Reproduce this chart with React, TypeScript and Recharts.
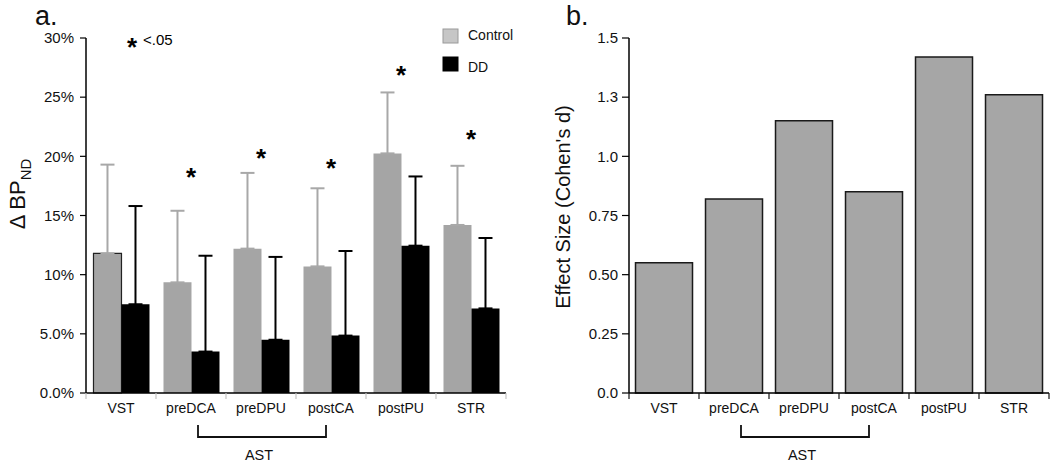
import React from 'react';
import { ComposedChart, BarChart, Bar, XAxis, YAxis, ErrorBar, Scatter, Legend, Cell, Label } from 'recharts';

// ---- data ----
const regions = ['VST', 'preDCA', 'preDPU', 'postCA', 'postPU', 'STR'];
const controlMean = [11.8, 9.35, 12.2, 10.7, 20.25, 14.2];
const controlErr = [7.5, 6.05, 6.4, 6.6, 5.15, 5.0];
const ddMean = [7.5, 3.5, 4.5, 4.85, 12.45, 7.15];
const ddErr = [8.3, 8.1, 7.0, 7.15, 5.85, 5.95];
const sigStar: (number | null)[] = [null, 18.7, 20.3, 19.4, 27.3, 21.9];
const effectSize = [0.55, 0.82, 1.15, 0.85, 1.42, 1.26];
const pctTicks = [0, 5, 10, 15, 20, 25, 30];
const pctTickLabels = ['0.0%', '5.0%', '10%', '15%', '20%', '25%', '30%'];
const dTicks = [0, 0.25, 0.5, 0.75, 1, 1.25, 1.5];
const dTickLabels = ['0.0', '0.25', '0.50', '0.75', '1.0', '1.3', '1.5'];
const astGroup = ['preDCA', 'postCA'];

const groupData = regions.map((r, i) => ({
  region: r,
  control: controlMean[i],
  controlErr: [0, controlErr[i]],
  dd: ddMean[i],
  ddErr: [0, ddErr[i]],
  star: sigStar[i],
}));
const effectData = regions.map((r, i) => ({ region: r, d: effectSize[i] }));

const FONT = '"Liberation Sans", Arial, Helvetica, sans-serif';
const PLOT_W = 420;
const BAND = PLOT_W / regions.length;

const makeTick = (tickColor: string) => (props: any) => {
  const { x, y, payload, index } = props;
  const half = BAND / 2;
  const startIdx = regions.indexOf(astGroup[0]);
  const endIdx = regions.indexOf(astGroup[1]);
  const span = (endIdx - startIdx) * BAND;
  return (
    <g>
      <line x1={x - half} x2={x - half} y1={y} y2={y + 6} stroke={tickColor} strokeWidth={1.2} />
      {index === regions.length - 1 && (
        <line x1={x + half} x2={x + half} y1={y} y2={y + 6} stroke={tickColor} strokeWidth={1.2} />
      )}
      <text x={x} y={y + 20} textAnchor="middle" fontSize={14} fontFamily={FONT} fill="#111">
        {payload.value}
      </text>
      {index === startIdx && (
        <g>
          <path
            d={`M${x + 7},${y + 32} L${x + 7},${y + 44} L${x + span - 5},${y + 44} L${x + span - 5},${y + 32}`}
            fill="none"
            stroke="#111"
            strokeWidth={1.8}
          />
          <text x={x + span / 2 - 2} y={y + 67} textAnchor="middle" fontSize={14.5} fontFamily={FONT} fill="#111">
            AST
          </text>
        </g>
      )}
    </g>
  );
};

const legendContent = (props: any) => {
  const items = (props.payload || []).filter((p: any) => p.dataKey === 'control' || p.dataKey === 'dd');
  return (
    <svg width={400} height={60} style={{ overflow: 'visible' }}>
      <text x={12} y={31} textAnchor="middle" fontSize={26} fontWeight="bold" fontFamily={FONT}>*</text>
      <text x={23} y={20} fontSize={15} fontFamily={FONT}>&lt;.05</text>
      {items.map((it: any, i: number) => (
        <g key={it.value}>
          <rect
            x={323}
            y={4 + i * 28}
            width={15}
            height={14}
            fill={it.dataKey === 'control' ? '#c6c6c6' : '#000'}
            stroke={it.dataKey === 'control' ? '#9a9a9a' : '#000'}
          />
          <text x={348} y={15 + i * 32} fontSize={14} fontFamily={FONT} fill="#111">
            {it.value}
          </text>
        </g>
      ))}
    </svg>
  );
};

const StarShape = (p: any) => {
  if (p.payload == null || p.payload.star == null) return <g />;
  return (
    <text x={p.cx} y={p.cy + 14} textAnchor="middle" fontSize={26} fontWeight="bold" fontFamily={FONT}>
      *
    </text>
  );
};

const leftLabel = () => (
  <g>
    <text x={35} y={25} fontSize={27} fontFamily={FONT} fill="#111">a.</text>
    <text transform="translate(25,194) rotate(-90)" textAnchor="middle" fontSize={22} fontFamily={FONT} fill="#111">
      <tspan>Δ BP</tspan>
      <tspan fontSize={15} dy={6}>ND</tspan>
    </text>
  </g>
);

const rightLabel = () => (
  <g>
    <text x={36} y={25} fontSize={27} fontFamily={FONT} fill="#111">b.</text>
    <text transform="translate(40,207) rotate(-90)" textAnchor="middle" fontSize={20} fontFamily={FONT} fill="#111">
      Effect Size (Cohen's d)
    </text>
  </g>
);

export default function App() {
  return (
    <div style={{ position: 'absolute', left: 0, top: 0, width: 1050, height: 462, background: '#fff', display: 'flex' }}>
      <ComposedChart
        width={530}
        height={462}
        data={groupData}
        margin={{ top: 38, right: 24, bottom: 0, left: 0 }}
        barCategoryGap="10.7%"
        barGap={0}
      >
        <XAxis
          dataKey="region"
          height={69}
          tickSize={0}
          tickMargin={0}
          tickLine={false}
          interval={0}
          tick={makeTick('#c4c4c4')}
          axisLine={{ stroke: '#000', strokeWidth: 1.5 }}
        />
        <YAxis
          width={86}
          domain={[0, 30]}
          ticks={pctTicks}
          interval={0}
          tickFormatter={(v: number) => pctTickLabels[pctTicks.indexOf(v)]}
          tickSize={6}
          tickMargin={6}
          tick={{ fontSize: 15, fontFamily: FONT, fill: '#111' }}
          tickLine={{ stroke: '#000', strokeWidth: 1.2 }}
          axisLine={{ stroke: '#000', strokeWidth: 1.5 }}
        >
          <Label content={leftLabel} />
        </YAxis>
        <Legend
          layout="horizontal"
          verticalAlign="middle"
          align="center"
          content={legendContent}
          wrapperStyle={{ left: 120, top: 25, width: 400, height: 60 }}
        />
        <Bar dataKey="control" name="Control" fill="#a5a5a5" isAnimationActive={false}>
          {groupData.map((d, i) => (
            <Cell key={d.region} stroke={i === 0 ? '#222' : 'none'} strokeWidth={i === 0 ? 1.2 : 0} />
          ))}
          <ErrorBar dataKey="controlErr" width={7} stroke="#a8a8a8" strokeWidth={2} />
        </Bar>
        <Bar dataKey="dd" name="DD" fill="#000" isAnimationActive={false}>
          <ErrorBar dataKey="ddErr" width={7} stroke="#000" strokeWidth={2} />
        </Bar>
        <Scatter dataKey="star" legendType="none" shape={StarShape} isAnimationActive={false} />
      </ComposedChart>
      <BarChart
        width={520}
        height={462}
        data={effectData}
        margin={{ top: 38, right: 1, bottom: 0, left: 0 }}
        barCategoryGap="9.3%"
      >
        <XAxis
          dataKey="region"
          height={69}
          tickSize={0}
          tickMargin={0}
          tickLine={false}
          interval={0}
          tick={makeTick('#111')}
          axisLine={{ stroke: '#000', strokeWidth: 1.5 }}
        />
        <YAxis
          width={99}
          domain={[0, 1.5]}
          ticks={dTicks}
          interval={0}
          tickFormatter={(v: number) => dTickLabels[dTicks.indexOf(v)]}
          tickSize={7}
          tickMargin={4}
          tick={{ fontSize: 15, fontFamily: FONT, fill: '#111' }}
          tickLine={{ stroke: '#000', strokeWidth: 1.2 }}
          axisLine={{ stroke: '#000', strokeWidth: 1.5 }}
        >
          <Label content={rightLabel} />
        </YAxis>
        <Bar dataKey="d" fill="#a6a6a6" stroke="#1a1a1a" strokeWidth={1.5} isAnimationActive={false} />
      </BarChart>
    </div>
  );
}
